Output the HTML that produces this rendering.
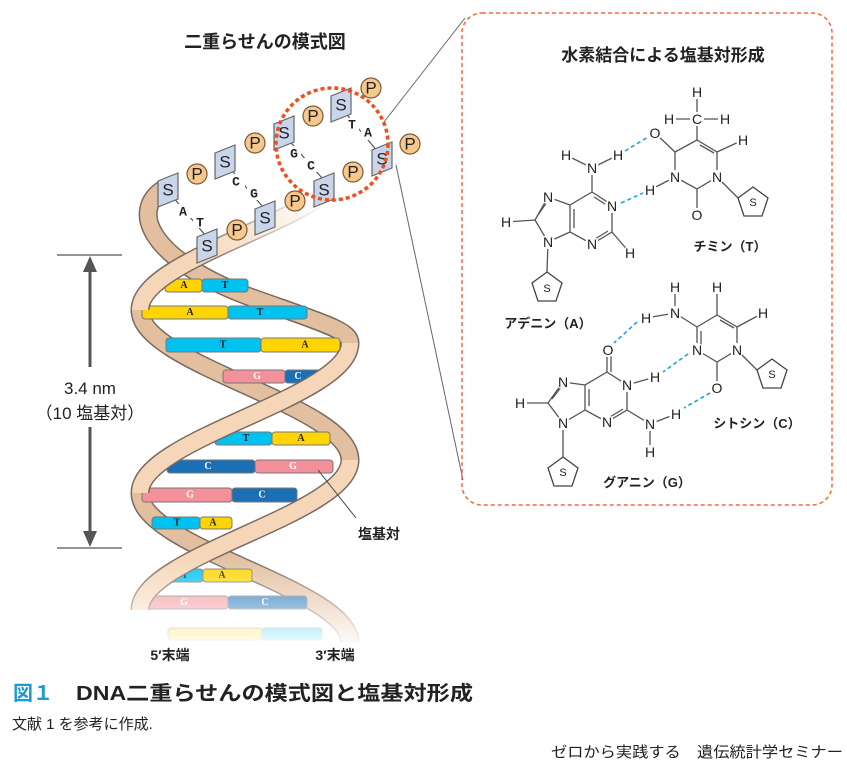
<!DOCTYPE html>
<html><head><meta charset="utf-8"><style>
html,body{margin:0;padding:0;background:#fff;}
svg{display:block;font-family:"Liberation Sans","Noto Sans CJK JP",sans-serif;}
.b{stroke:#555;stroke-width:1.3;fill:none}
.at{font-size:14px;fill:#222;text-anchor:middle;dominant-baseline:central}
.hb{stroke:#1aa3e0;stroke-width:1.6;stroke-dasharray:4 3;fill:none}
.pent{fill:#fff;stroke:#444;stroke-width:1.3}
.lbl{font-size:13px;font-weight:bold;fill:#222;text-anchor:middle}
.sq{fill:#c9d5ea;stroke:#666;stroke-width:1.2}
.pc{fill:#f7c88c;stroke:#7a5a3a;stroke-width:1.2}
.sp{font-size:17px;fill:#222;text-anchor:middle;dominant-baseline:central}
.base{font-family:"Liberation Mono",monospace;font-weight:bold;font-size:13px;fill:#222;text-anchor:middle;dominant-baseline:central}
.bl{font-family:"Liberation Serif",serif;font-weight:bold;font-size:10px;text-anchor:middle;dominant-baseline:central}
.rb{stroke:#777;stroke-width:1}
</style></head><body>
<svg width="847" height="771" viewBox="0 0 847 771" xmlns="http://www.w3.org/2000/svg">
<defs>
<linearGradient id="fade" x1="0" y1="0" x2="0" y2="1">
<stop offset="0" stop-color="#fff" stop-opacity="0"/>
<stop offset="1" stop-color="#fff" stop-opacity="1"/>
</linearGradient>
<linearGradient id="gOut" gradientUnits="userSpaceOnUse" x1="320" y1="195" x2="200" y2="260">
<stop offset="0" stop-color="#7a6a60" stop-opacity="0"/>
<stop offset="1" stop-color="#7a6a60" stop-opacity="1"/>
</linearGradient>
<linearGradient id="gIn" gradientUnits="userSpaceOnUse" x1="320" y1="195" x2="200" y2="260">
<stop offset="0" stop-color="#fff" stop-opacity="1"/>
<stop offset="1" stop-color="#f5d6b8" stop-opacity="1"/>
</linearGradient>
</defs>

<text x="265" y="48" font-size="18" font-weight="bold" text-anchor="middle" fill="#222">二重らせんの模式図</text>

<line x1="384" y1="122" x2="465" y2="18" stroke="#666" stroke-width="1"/>
<line x1="396" y1="165" x2="463" y2="480" stroke="#666" stroke-width="1"/>

<g fill="none">
<path d="M165,188 C128,210 150,260 250,297 C320,322 350,330 350,343" stroke="#7a6a60" stroke-width="19"/>
<path d="M165,188 C128,210 150,260 250,297 C320,322 350,330 350,343" stroke="#e2bf9f" stroke-width="16"/>
<path d="M140,310 C140,365 350,405 350,460" stroke="#7a6a60" stroke-width="19"/>
<path d="M140,310 C140,365 350,405 350,460" stroke="#e2bf9f" stroke-width="16"/>
<path d="M140,493 C140,548 350,588 350,643" stroke="#7a6a60" stroke-width="19"/>
<path d="M140,493 C140,548 350,588 350,643" stroke="#e2bf9f" stroke-width="16"/>
</g>

<g>
<rect x="165" y="279" width="37" height="13" rx="3" fill="#ffd400" class="rb"/><rect x="202" y="279" width="46" height="13" rx="3" fill="#00c2f0" class="rb"/>
<text x="184" y="285.5" class="bl" fill="#222">A</text><text x="225" y="285.5" class="bl" fill="#222">T</text>
<rect x="142" y="306" width="86" height="13" rx="3" fill="#ffd400" class="rb"/><rect x="228" y="306" width="79" height="13" rx="3" fill="#00c2f0" class="rb"/>
<text x="190" y="312.5" class="bl" fill="#222">A</text><text x="260" y="312.5" class="bl" fill="#222">T</text>
<rect x="166" y="338" width="95" height="14" rx="3" fill="#00c2f0" class="rb"/><rect x="261" y="338" width="79" height="14" rx="3" fill="#ffd400" class="rb"/>
<text x="223" y="345" class="bl" fill="#222">T</text><text x="305" y="345" class="bl" fill="#222">A</text>
<rect x="223" y="370" width="62" height="13" rx="3" fill="#f4909a" class="rb"/><rect x="285" y="370" width="40" height="13" rx="3" fill="#1a6fb5" class="rb"/>
<text x="257" y="376.5" class="bl" fill="#fff">G</text><text x="298" y="376.5" class="bl" fill="#fff">C</text>
<rect x="215" y="432" width="57" height="13" rx="3" fill="#00c2f0" class="rb"/><rect x="272" y="432" width="58" height="13" rx="3" fill="#ffd400" class="rb"/>
<text x="246" y="438.5" class="bl" fill="#222">T</text><text x="301" y="438.5" class="bl" fill="#222">A</text>
<rect x="167" y="460" width="88" height="13" rx="3" fill="#1a6fb5" class="rb"/><rect x="255" y="460" width="78" height="13" rx="3" fill="#f4909a" class="rb"/>
<text x="208" y="466.5" class="bl" fill="#fff">C</text><text x="293" y="466.5" class="bl" fill="#fff">G</text>
<rect x="142" y="488" width="90" height="14" rx="3" fill="#f4909a" class="rb"/><rect x="232" y="488" width="65" height="14" rx="3" fill="#1a6fb5" class="rb"/>
<text x="190" y="495" class="bl" fill="#fff">G</text><text x="262" y="495" class="bl" fill="#fff">C</text>
<rect x="152" y="517" width="48" height="12" rx="3" fill="#00c2f0" class="rb"/><rect x="200" y="517" width="32" height="12" rx="3" fill="#ffd400" class="rb"/>
<text x="177" y="523" class="bl" fill="#222">T</text><text x="213" y="523" class="bl" fill="#222">A</text>
<rect x="160" y="569" width="43" height="13" rx="3" fill="#00c2f0" class="rb"/><rect x="203" y="569" width="49" height="13" rx="3" fill="#ffd400" class="rb"/>
<text x="185" y="575.5" class="bl" fill="#222">T</text><text x="222" y="575.5" class="bl" fill="#222">A</text>
<rect x="142" y="596" width="86" height="13" rx="3" fill="#f4909a" class="rb"/><rect x="228" y="596" width="79" height="13" rx="3" fill="#1a6fb5" class="rb"/>
<text x="184" y="602.5" class="bl" fill="#fff">G</text><text x="265" y="602.5" class="bl" fill="#fff">C</text>
<rect x="168" y="628" width="94" height="12" rx="3" fill="#ffd400" class="rb"/><rect x="262" y="628" width="60" height="12" rx="3" fill="#00c2f0" class="rb"/>
</g>

<g fill="none">
<path d="M350,160 C350,215 140,255 140,310" stroke="url(#gOut)" stroke-width="19"/>
<path d="M350,160 C350,215 140,255 140,310" stroke="url(#gIn)" stroke-width="16"/>
<path d="M350,343 C350,398 140,438 140,493" stroke="#7a6a60" stroke-width="19"/>
<path d="M350,343 C350,398 140,438 140,493" stroke="#f5d6b8" stroke-width="16"/>
<path d="M350,460 C350,515 140,555 140,610" stroke="#7a6a60" stroke-width="19"/>
<path d="M350,460 C350,515 140,555 140,610" stroke="#f5d6b8" stroke-width="16"/>
</g>
<rect x="120" y="555" width="260" height="95" fill="url(#fade)"/>

<g>
<line x1="172" y1="196" x2="206" y2="236" stroke="#444" stroke-width="1"/>
<line x1="228" y1="166" x2="262" y2="206" stroke="#444" stroke-width="1"/>
<line x1="286" y1="137" x2="322" y2="178" stroke="#444" stroke-width="1"/>
<line x1="343" y1="110" x2="378" y2="152" stroke="#444" stroke-width="1"/>
<rect x="178" y="204" width="14" height="14" fill="#fff"/><rect x="193" y="214" width="14" height="14" fill="#fff"/>
<rect x="231" y="174" width="14" height="14" fill="#fff"/><rect x="247" y="186" width="14" height="14" fill="#fff"/>
<rect x="287" y="146" width="14" height="14" fill="#fff"/><rect x="304" y="158" width="14" height="14" fill="#fff"/>
<rect x="345" y="118" width="14" height="14" fill="#fff"/><rect x="361" y="126" width="14" height="14" fill="#fff"/>
<text x="183" y="212" class="base">A</text><text x="200" y="223" class="base">T</text>
<text x="236" y="182" class="base">C</text><text x="254" y="194" class="base">G</text>
<text x="294" y="154" class="base">G</text><text x="311" y="166" class="base">C</text>
<text x="352" y="125" class="base">T</text><text x="368" y="133" class="base">A</text>
</g>
<g>
<polygon class="sq" points="158,181 178,173 178,199 158,207"/><text x="168" y="190" class="sp">S</text>
<circle class="pc" cx="197" cy="174" r="10"/><text x="197" y="174" class="sp">P</text>
<polygon class="sq" points="215,153 235,145 235,171 215,179"/><text x="225" y="162" class="sp">S</text>
<circle class="pc" cx="255" cy="143" r="10"/><text x="255" y="143" class="sp">P</text>
<polygon class="sq" points="274,124 294,116 294,142 274,150"/><text x="284" y="133" class="sp">S</text>
<circle class="pc" cx="313" cy="116" r="10"/><text x="313" y="116" class="sp">P</text>
<polygon class="sq" points="331,96 351,88 351,114 331,122"/><text x="341" y="105" class="sp">S</text>
<circle class="pc" cx="371" cy="88" r="10"/><text x="371" y="88" class="sp">P</text>
<polygon class="sq" points="197,237 217,229 217,255 197,263"/><text x="207" y="246" class="sp">S</text>
<circle class="pc" cx="237" cy="230" r="10"/><text x="237" y="230" class="sp">P</text>
<polygon class="sq" points="255,209 275,201 275,227 255,235"/><text x="265" y="218" class="sp">S</text>
<circle class="pc" cx="295" cy="201" r="10"/><text x="295" y="201" class="sp">P</text>
<polygon class="sq" points="314,181 334,173 334,199 314,207"/><text x="324" y="190" class="sp">S</text>
<circle class="pc" cx="353" cy="172" r="10"/><text x="353" y="172" class="sp">P</text>
<polygon class="sq" points="372,150 392,142 392,168 372,176"/><text x="382" y="159" class="sp">S</text>
<circle class="pc" cx="410" cy="144" r="10"/><text x="410" y="144" class="sp">P</text>
</g>
<circle cx="332" cy="144" r="56" fill="none" stroke="#f04e1c" stroke-width="3.5" stroke-dasharray="4 3"/>

<g stroke="#555" stroke-width="1.2">
<line x1="57" y1="255" x2="122" y2="255"/>
<line x1="57" y1="548" x2="122" y2="548"/>
</g>
<line x1="90" y1="264" x2="90" y2="367" stroke="#555" stroke-width="3"/>
<line x1="90" y1="427" x2="90" y2="538" stroke="#555" stroke-width="3"/>
<polygon points="90,256 83,272 97,272" fill="#555"/>
<polygon points="90,547 83,531 97,531" fill="#555"/>
<text x="90" y="394" font-size="17" text-anchor="middle" fill="#222">3.4 nm</text>
<text x="90" y="419" font-size="17" text-anchor="middle" fill="#222">（10 塩基対）</text>

<line x1="318" y1="470" x2="356" y2="518" stroke="#444" stroke-width="1"/>
<text x="358" y="539" font-size="14" font-weight="bold" fill="#222">塩基対</text>
<text x="170" y="660" font-size="14" font-weight="bold" text-anchor="middle" fill="#222">5′末端</text>
<text x="335" y="660" font-size="14" font-weight="bold" text-anchor="middle" fill="#222">3′末端</text>

<rect x="462" y="13" width="370" height="492" rx="20" fill="none" stroke="#f26a3a" stroke-width="1.5" stroke-dasharray="4 3"/>
<text x="663" y="61" font-size="17" font-weight="bold" text-anchor="middle" fill="#222">水素結合による塩基対形成</text>

<g class="b">
<polyline points="592,192 612,205 612,232 592,244 570,232 570,205 592,192"/>
<line x1="574" y1="209" x2="574" y2="228"/>
<line x1="594" y1="197" x2="608" y2="206"/>
<line x1="595" y1="239" x2="608" y2="231"/>
<polyline points="570,205 548,197 535,220 548,242 570,232"/>
<line x1="538" y1="215" x2="547" y2="202"/>
<line x1="592" y1="192" x2="592" y2="168"/>
<line x1="592" y1="168" x2="566" y2="155"/>
<line x1="592" y1="168" x2="618" y2="155"/>
<line x1="535" y1="220" x2="506" y2="222"/>
<line x1="612" y1="232" x2="630" y2="253"/>
<line x1="548" y1="242" x2="547" y2="272"/>
</g>
<g fill="#fff">
<circle cx="592" cy="168" r="7"/><circle cx="566" cy="155" r="7"/><circle cx="618" cy="155" r="7"/>
<circle cx="612" cy="206" r="7"/><circle cx="592" cy="244" r="7"/><circle cx="548" cy="197" r="7"/><circle cx="548" cy="242" r="7"/>
<circle cx="506" cy="222" r="7"/><circle cx="630" cy="253" r="7"/>
</g>
<g class="at">
<text x="592" y="168">N</text><text x="566" y="155">H</text><text x="618" y="155">H</text>
<text x="612" y="206">N</text><text x="592" y="244">N</text><text x="548" y="197">N</text><text x="548" y="242">N</text>
<text x="506" y="222">H</text><text x="630" y="253">H</text>
</g>
<polygon class="pent" points="547,272 562,283 556,301 538,301 532,283"/>
<text x="547" y="289" font-size="11" text-anchor="middle" dominant-baseline="central" fill="#222">S</text>
<text x="548" y="328" class="lbl">アデニン（A）</text>

<g class="b">
<polyline points="675,152 697,140 717,152 717,177 697,189 675,177 675,152"/>
<line x1="700" y1="145" x2="714" y2="153"/>
<line x1="697" y1="140" x2="697" y2="119"/>
<line x1="697" y1="119" x2="697" y2="92"/>
<line x1="697" y1="119" x2="669" y2="119"/>
<line x1="697" y1="119" x2="725" y2="119"/>
<line x1="675" y1="152" x2="655" y2="133"/>
<line x1="717" y1="152" x2="743" y2="140"/>
<line x1="675" y1="177" x2="650" y2="190"/>
<line x1="697" y1="189" x2="697" y2="215"/>
<line x1="717" y1="177" x2="738" y2="198"/>
</g>
<g fill="#fff">
<circle cx="697" cy="119" r="7"/><circle cx="697" cy="92" r="7"/><circle cx="669" cy="119" r="7"/><circle cx="725" cy="119" r="7"/>
<circle cx="655" cy="133" r="7"/><circle cx="743" cy="140" r="7"/><circle cx="675" cy="177" r="7"/><circle cx="717" cy="177" r="7"/>
<circle cx="650" cy="190" r="7"/><circle cx="697" cy="215" r="7"/>
</g>
<g class="at">
<text x="697" y="119">C</text><text x="697" y="92">H</text><text x="669" y="119">H</text><text x="725" y="119">H</text>
<text x="655" y="133">O</text><text x="743" y="140">H</text><text x="675" y="177">N</text><text x="717" y="177">N</text>
<text x="650" y="190">H</text><text x="697" y="215">O</text>
</g>
<polygon class="pent" points="753,187 768,198 762,216 744,216 738,198"/>
<text x="753" y="203" font-size="11" text-anchor="middle" dominant-baseline="central" fill="#222">S</text>
<text x="730" y="251" class="lbl">チミン（T）</text>
<line class="hb" x1="625" y1="151" x2="648" y2="137"/>
<line class="hb" x1="621" y1="203" x2="643" y2="193"/>

<g class="b">
<polyline points="697,327 717,315 737,327 737,350 717,362 697,350 697,327"/>
<line x1="720" y1="320" x2="734" y2="328"/>
<line x1="701" y1="331" x2="701" y2="347"/>
<line x1="697" y1="327" x2="675" y2="313"/>
<line x1="675" y1="313" x2="675" y2="287"/>
<line x1="675" y1="313" x2="646" y2="318"/>
<line x1="717" y1="315" x2="717" y2="287"/>
<line x1="737" y1="327" x2="763" y2="313"/>
<line x1="717" y1="362" x2="717" y2="388"/>
<line x1="737" y1="350" x2="757" y2="370"/>
</g>
<g fill="#fff">
<circle cx="675" cy="313" r="7"/><circle cx="675" cy="287" r="7"/><circle cx="646" cy="318" r="7"/><circle cx="717" cy="287" r="7"/>
<circle cx="763" cy="313" r="7"/><circle cx="737" cy="350" r="7"/><circle cx="697" cy="350" r="7"/><circle cx="717" cy="388" r="7"/>
</g>
<g class="at">
<text x="675" y="313">N</text><text x="675" y="287">H</text><text x="646" y="318">H</text><text x="717" y="287">H</text>
<text x="763" y="313">H</text><text x="737" y="350">N</text><text x="697" y="350">N</text><text x="717" y="388">O</text>
</g>
<polygon class="pent" points="772,359 787,370 781,388 763,388 757,370"/>
<text x="772" y="375" font-size="11" text-anchor="middle" dominant-baseline="central" fill="#222">S</text>
<text x="757" y="428" class="lbl">シトシン（C）</text>

<g class="b">
<polyline points="607,372 627,385 627,410 607,422 585,410 585,385 607,372"/>
<line x1="589" y1="389" x2="589" y2="406"/>
<line x1="610" y1="417" x2="623" y2="409"/>
<polyline points="585,385 563,382 548,403 563,423 585,410"/>
<line x1="552" y1="399" x2="562" y2="386"/>
<line x1="607" y1="372" x2="607" y2="350"/>
<line x1="611" y1="372" x2="611" y2="352"/>
<line x1="627" y1="385" x2="655" y2="377"/>
<line x1="627" y1="410" x2="650" y2="424"/>
<line x1="650" y1="424" x2="650" y2="452"/>
<line x1="650" y1="424" x2="676" y2="414"/>
<line x1="548" y1="403" x2="520" y2="403"/>
<line x1="563" y1="423" x2="563" y2="457"/>
</g>
<g fill="#fff">
<circle cx="608" cy="350" r="7"/><circle cx="627" cy="385" r="7"/><circle cx="655" cy="377" r="7"/><circle cx="607" cy="422" r="7"/>
<circle cx="563" cy="382" r="7"/><circle cx="563" cy="423" r="7"/><circle cx="650" cy="424" r="7"/><circle cx="650" cy="452" r="7"/>
<circle cx="676" cy="414" r="7"/><circle cx="520" cy="403" r="7"/>
</g>
<g class="at">
<text x="608" y="350">O</text><text x="627" y="385">N</text><text x="655" y="377">H</text><text x="607" y="422">N</text>
<text x="563" y="382">N</text><text x="563" y="423">N</text><text x="650" y="424">N</text><text x="650" y="452">H</text>
<text x="676" y="414">H</text><text x="520" y="403">H</text>
</g>
<polygon class="pent" points="563,457 578,468 572,486 554,486 548,468"/>
<text x="563" y="473" font-size="11" text-anchor="middle" dominant-baseline="central" fill="#222">S</text>
<text x="647" y="487" class="lbl">グアニン（G）</text>
<line class="hb" x1="637" y1="322" x2="614" y2="343"/>
<line class="hb" x1="688" y1="354" x2="663" y2="372"/>
<line class="hb" x1="710" y1="393" x2="684" y2="408"/>

<text x="13" y="700" font-size="20" font-weight="bold" fill="#1a9ad6">図１</text>
<text x="76" y="700" font-size="20" font-weight="bold" fill="#222" textLength="397" lengthAdjust="spacingAndGlyphs">DNA二重らせんの模式図と塩基対形成</text>
<text x="12" y="729" font-size="15" fill="#222">文献 1 を参考に作成.</text>
<text x="551" y="757" font-size="15" fill="#222" textLength="292" lengthAdjust="spacingAndGlyphs">ゼロから実践する　遺伝統計学セミナー</text>
</svg>
</body></html>
